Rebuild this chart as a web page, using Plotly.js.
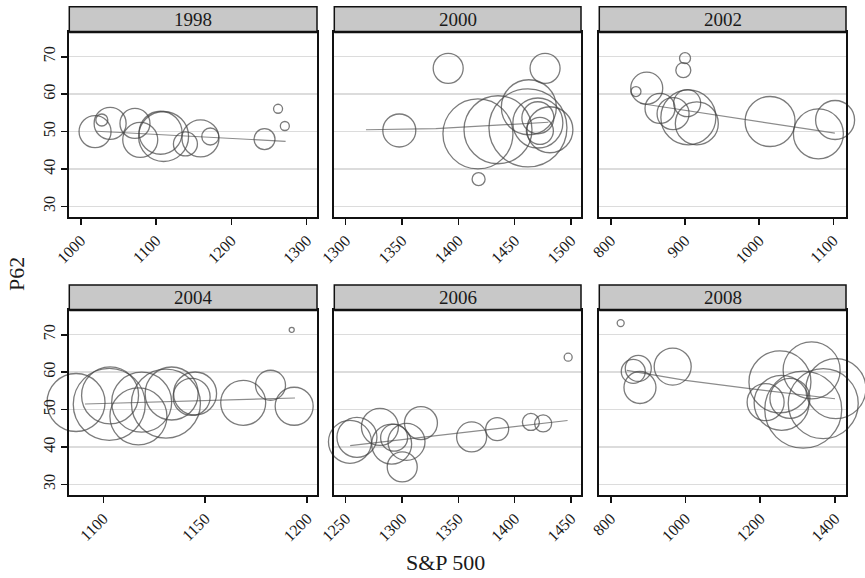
<!DOCTYPE html>
<html>
<head>
<meta charset="utf-8">
<script src="https://cdn.plot.ly/plotly-3.0.1.min.js"></script>
<style>html,body{margin:0;padding:0;background:#fff}#chart{width:865px;height:578px}</style>
</head>
<body>
<div id="chart"></div>
<script>
// ---- data ----
var years = ["1998", "2000", "2002", "2004", "2006", "2008"];

var x1998 = [1019, 1028, 1039, 1072, 1079, 1106, 1110, 1139, 1159, 1172, 1244, 1262, 1271];
var y1998 = [50.0, 53.1, 52.2, 52.2, 47.8, 49.7, 48.7, 46.7, 48.2, 48.7, 48.0, 56.1, 51.5];
var w1998 = [32, 12, 32, 30, 35, 43, 50, 24, 37, 17, 21, 9, 9];
var fx1998 = [1021, 1070, 1110, 1160, 1210, 1272];
var fy1998 = [50.1, 49.6, 49.1, 48.6, 48.0, 47.4];

var x2000 = [1391, 1477, 1347.6, 1418, 1417.4, 1435.2, 1461.8, 1462.6, 1470.6, 1481.3, 1470.6, 1472.4];
var y2000 = [66.9, 66.9, 50.3, 37.3, 49.4, 50.5, 51.0, 56.5, 52.3, 50.5, 53.7, 50.2];
var w2000 = [30, 30, 33, 13, 70, 68, 78, 55, 50, 46, 32, 27];
var fx2000 = [1318, 1380, 1415, 1450, 1480];
var fy2000 = [50.5, 50.8, 51.4, 51.9, 52.5];

var x2002 = [900.1, 897.8, 848.5, 834, 866.4, 884, 903, 904.6, 916, 1014.7, 1079.8, 1102.3];
var y2002 = [69.6, 66.4, 61.6, 60.7, 56.2, 54.8, 57.6, 53.8, 52.2, 52.7, 49.4, 53.1];
var w2002 = [11, 15, 32, 10, 30, 32, 27, 55, 43, 50, 50, 39];
var fx2002 = [840, 900, 1000, 1102];
var fy2002 = [57.5, 55.7, 52.6, 49.6];

var x2004 = [1086.6, 1102.9, 1103.3, 1117.2, 1118.8, 1130.7, 1133.5, 1145, 1143.3, 1168.6, 1182, 1193.6, 1192.4];
var y2004 = [51.9, 51.4, 53.8, 48.2, 52.0, 51.6, 54.3, 54.3, 53.4, 51.8, 56.5, 50.9, 71.3];
var w2004 = [58, 72, 57, 57, 60, 69, 53, 43, 37, 45, 30, 38, 5];
var fx2004 = [1091, 1120, 1150, 1194];
var fy2004 = [51.5, 52.0, 52.5, 53.1];

var x2006 = [1447.5, 1253.8, 1260, 1280.4, 1290.8, 1293, 1304, 1300.2, 1316.8, 1361.8, 1384.5, 1414.4, 1425.3];
var y2006 = [64.0, 41.4, 42.6, 45.4, 40.8, 42.5, 41.4, 34.7, 46.4, 42.7, 44.8, 46.7, 46.3];
var w2006 = [8, 43, 40, 37, 40, 27, 37, 30, 33, 30, 23, 17, 17];
var fx2006 = [1254, 1447];
var fy2006 = [40.4, 47.1];

var x2008 = [826.7, 860.4, 873.8, 878.3, 965.8, 1214.4, 1252.7, 1257.2, 1279.4, 1337.4, 1315, 1368.5, 1402.4];
var y2008 = [73.1, 60.2, 61.0, 55.9, 61.5, 52.0, 57.4, 51.8, 53.0, 60.5, 50.0, 51.6, 55.6];
var w2008 = [7, 24, 26, 32, 37, 37, 62, 55, 40, 57, 77, 70, 60];
var fx2008 = [843, 1000, 1172, 1400];
var fy2008 = [60.5, 57.8, 55.6, 52.9];

var yTicks = [30, 40, 50, 60, 70];
var xTickSets = [
  [1000, 1100, 1200, 1300],
  [1300, 1350, 1400, 1450, 1500],
  [800, 900, 1000, 1100],
  [1100, 1150, 1200],
  [1250, 1300, 1350, 1400, 1450],
  [800, 1000, 1200, 1400]
];

// ---- layout helpers ----
var xsAll = [x1998, x2000, x2002, x2004, x2006, x2008];
var ysAll = [y1998, y2000, y2002, y2004, y2006, y2008];
var wsAll = [w1998, w2000, w2002, w2004, w2006, w2008];
var fxAll = [fx1998, fx2000, fx2002, fx2004, fx2006, fx2008];
var fyAll = [fy1998, fy2000, fy2002, fy2004, fy2006, fy2008];

var W = 865, H = 578;
var colPx = [[69.3, 317], [334.3, 581], [599.3, 846]];
var rowPx = [[32, 217], [310, 495]];  // plot area top/bottom in px
var hdrPx = [[6.7, 32], [285, 310]];
var xRanges = [[984.8, 1313.7], [1289.9, 1508.9], [784.6, 1117], [1083.3, 1204.8], [1239.9, 1458.9], [769.5, 1429.4]];
var yRange = [27.2, 76.6];

var serif = "Liberation Serif, Times New Roman, serif";
var data = [];
var layout = {
  width: W, height: H,
  margin: {l: 0, r: 0, t: 0, b: 0},
  paper_bgcolor: "#ffffff",
  plot_bgcolor: "#ffffff",
  showlegend: false,
  font: {family: serif, size: 16, color: "#1a1a1a"},
  shapes: [],
  annotations: []
};

for (var i = 0; i < 6; i++) {
  var col = i % 3, row = Math.floor(i / 3);
  var sfx = i === 0 ? "" : String(i + 1);
  var xa = "x" + sfx, ya = "y" + sfx;
  data.push({
    type: "scatter", mode: "lines", x: fxAll[i], y: fyAll[i],
    xaxis: xa, yaxis: ya, line: {color: "#8c8c8c", width: 1.2}, hoverinfo: "skip"
  });
  data.push({
    type: "scatter", mode: "markers", x: xsAll[i], y: ysAll[i],
    xaxis: xa, yaxis: ya, cliponaxis: false,
    marker: {size: wsAll[i], color: "rgba(0,0,0,0)", line: {color: "#444444", width: 1.3}}
  });
  var xd = [colPx[col][0] / W, colPx[col][1] / W];
  var yd = [1 - rowPx[row][1] / H, 1 - rowPx[row][0] / H];
  layout["xaxis" + sfx] = {
    domain: xd, range: xRanges[i], anchor: ya,
    tickvals: xTickSets[i], ticktext: xTickSets[i].map(String), tickangle: -45,
    ticks: "outside", ticklen: 6, tickwidth: 1.6, tickcolor: "#111",
    showgrid: false, zeroline: false,
    showline: true, mirror: true, linecolor: "#111", linewidth: 2,
    tickfont: {family: serif, size: 16, color: "#1a1a1a"}
  };
  layout["yaxis" + sfx] = {
    domain: yd, range: yRange, anchor: xa,
    tickvals: yTicks, ticktext: yTicks.map(String), tickangle: -90,
    ticks: col === 0 ? "outside" : "", ticklen: 6, tickwidth: 1.6, tickcolor: "#111",
    showticklabels: col === 0,
    showgrid: true, gridcolor: "#dcdcdc", gridwidth: 1.5, zeroline: false,
    showline: true, mirror: true, linecolor: "#111", linewidth: 2,
    tickfont: {family: serif, size: 16, color: "#1a1a1a"}
  };
  // strip header
  layout.shapes.push({
    type: "rect", xref: "paper", yref: "paper",
    x0: xd[0], x1: xd[1], y0: 1 - hdrPx[row][1] / H, y1: 1 - hdrPx[row][0] / H,
    fillcolor: "#c8c8c8", line: {color: "#111", width: 1.5}, layer: "above"
  });
  layout.shapes.push({
    type: "line", xref: "paper", yref: "paper",
    x0: xd[0], x1: xd[1], y0: 1 - hdrPx[row][1] / H, y1: 1 - hdrPx[row][1] / H,
    line: {color: "#111", width: 2.5}, layer: "above"
  });
  layout.annotations.push({
    xref: "paper", yref: "paper", x: (xd[0] + xd[1]) / 2,
    y: 1 - (hdrPx[row][0] + hdrPx[row][1]) / 2 / H,
    text: years[i], showarrow: false, xanchor: "center", yanchor: "middle",
    font: {family: serif, size: 19, color: "#1a1a1a"}
  });
}

layout.annotations.push({
  xref: "paper", yref: "paper", x: 17 / W, y: 1 - 274 / H,
  text: "P62", showarrow: false, textangle: -90,
  font: {family: serif, size: 22, color: "#1a1a1a"}, xanchor: "center", yanchor: "middle"
});
layout.annotations.push({
  xref: "paper", yref: "paper", x: 446 / W, y: 1 - 562 / H,
  text: "S&amp;P 500", showarrow: false,
  font: {family: serif, size: 22, color: "#1a1a1a"}, xanchor: "center", yanchor: "middle"
});

Plotly.newPlot("chart", data, layout, {displayModeBar: false, staticPlot: true});
</script>
</body>
</html>
